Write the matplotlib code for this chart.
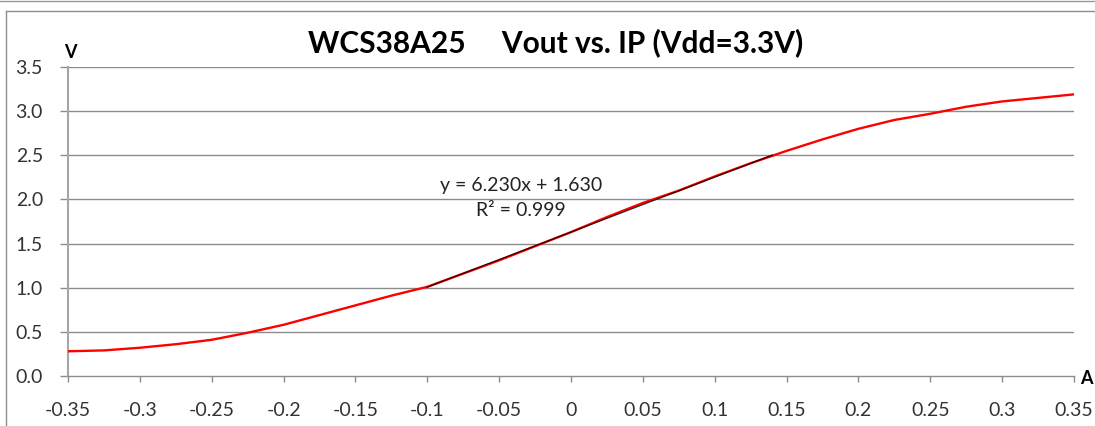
import matplotlib
matplotlib.use("Agg")
import matplotlib.pyplot as plt
from matplotlib.lines import Line2D
import numpy as np

plt.rcParams['font.family'] = ['Lato', 'DejaVu Sans']

# Data
current_a = [-0.350, -0.325, -0.300, -0.275, -0.250, -0.225, -0.200, -0.175, -0.150,
             -0.125, -0.100, -0.075, -0.050, -0.025, 0.000, 0.025, 0.050, 0.075,
             0.100, 0.125, 0.150, 0.175, 0.200, 0.225, 0.250, 0.275, 0.300, 0.325, 0.350]
vout_v = [0.28, 0.29, 0.32, 0.36, 0.41, 0.49, 0.58, 0.69, 0.80,
          0.91, 1.01, 1.16, 1.31, 1.47, 1.63, 1.80, 1.96, 2.10,
          2.26, 2.41, 2.55, 2.68, 2.80, 2.90, 2.97, 3.05, 3.11, 3.15, 3.19]

trend_slope = 6.230
trend_intercept = 1.630
trend_range = [-0.10, 0.14]

x_ticks = [-0.35, -0.3, -0.25, -0.2, -0.15, -0.1, -0.05, 0, 0.05, 0.1, 0.15, 0.2, 0.25, 0.3, 0.35]
x_tick_labels = ['-0.35', '-0.3', '-0.25', '-0.2', '-0.15', '-0.1', '-0.05', '0',
                 '0.05', '0.1', '0.15', '0.2', '0.25', '0.3', '0.35']
y_ticks = [0.0, 0.5, 1.0, 1.5, 2.0, 2.5, 3.0, 3.5]
y_tick_labels = ['0.0', '0.5', '1.0', '1.5', '2.0', '2.5', '3.0', '3.5']

W, H = 1095, 426
fig = plt.figure(figsize=(W / 100, H / 100), dpi=100)
ax = fig.add_axes([68 / W, 1 - 376 / H, (1074 - 68) / W, (376 - 67) / H])

grid_c = '#8c8c8c'
for yv in y_ticks[1:]:
    ax.axhline(yv, color=grid_c, lw=1.0, zorder=1)

ax.plot(current_a, vout_v, color='#ff0000', lw=1.7, zorder=3)
tx = np.array(trend_range)
ax.plot(tx, trend_slope * tx + trend_intercept, color='black', lw=0.9, zorder=4, alpha=0.8)

ax.set_xlim(-0.35, 0.35)
ax.set_ylim(0, 3.5)
ax.set_xticks(x_ticks)
ax.set_xticklabels(x_tick_labels)
ax.set_yticks(y_ticks)
ax.set_yticklabels(y_tick_labels)

for s in ['top', 'right']:
    ax.spines[s].set_visible(False)
ax.spines['left'].set_color('#a6a6a6')
ax.spines['left'].set_linewidth(1.5)
ax.spines['bottom'].set_color(grid_c)
ax.spines['bottom'].set_linewidth(1.0)
ax.tick_params(axis='y', length=6, width=1, color=grid_c, direction='out', pad=12,
               labelsize=14, labelcolor='#333333')
ax.tick_params(axis='x', length=4.5, width=1, color=grid_c, direction='out', pad=14,
               labelsize=14, labelcolor='#333333')
ax.set_facecolor('white')

# Titles and labels
fig.text(556 / W, 1 - 43 / H, 'WCS38A25     Vout vs. IP (Vdd=3.3V)', ha='center', va='center',
         fontsize=21.5, fontweight='bold', color='black')
fig.text(70 / W, 1 - 52 / H, 'V', ha='center', va='center', fontsize=13, fontweight='bold')
fig.text(1086 / W, 1 - 379 / H, 'A', ha='center', va='center', fontsize=13, fontweight='bold')

ax.text((521 - 68) / (1074 - 68), (376 - 185) / (376 - 67), 'y = 6.230x + 1.630',
        transform=ax.transAxes, ha='center', va='center', fontsize=14, color='#222222')
ax.text((521 - 68) / (1074 - 68), (376 - 210) / (376 - 67), 'R² = 0.999',
        transform=ax.transAxes, ha='center', va='center', fontsize=14, color='#222222')

# Outer frames
fig.add_artist(Line2D([0, 1], [1 - 1 / H, 1 - 1 / H], transform=fig.transFigure, color='#999999', lw=1))
fig.add_artist(Line2D([6 / W, 1], [1 - 11 / H, 1 - 11 / H], transform=fig.transFigure, color='#8c8c8c', lw=1))
fig.add_artist(Line2D([6 / W, 6 / W], [0, 1 - 11 / H], transform=fig.transFigure, color='#8c8c8c', lw=1))

fig.savefig('out.png', dpi=100)
